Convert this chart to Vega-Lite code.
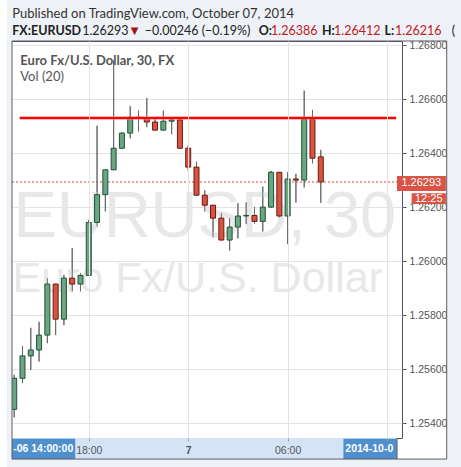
{
  "$schema": "https://vega.github.io/schema/vega-lite/v6.json",
  "autosize": "none",
  "width": 395,
  "height": 397,
  "padding": {"left": 7, "top": 41, "right": 59, "bottom": 29},
  "background": "white",
  "config": {
    "view": {"stroke": "#50535e", "strokeWidth": 1},
    "font": "Liberation Sans"
  },
  "datasets": {
    "candles": [
      {"t": "2014-10-06T13:30:00Z", "o": 1.25451, "h": 1.25579, "l": 1.25421, "c": 1.25566},
      {"t": "2014-10-06T14:00:00Z", "o": 1.25566, "h": 1.25686, "l": 1.25548, "c": 1.25649},
      {"t": "2014-10-06T14:30:00Z", "o": 1.25649, "h": 1.25753, "l": 1.25597, "c": 1.25671},
      {"t": "2014-10-06T15:00:00Z", "o": 1.25671, "h": 1.25775, "l": 1.25628, "c": 1.25726},
      {"t": "2014-10-06T15:30:00Z", "o": 1.25726, "h": 1.25937, "l": 1.25696, "c": 1.25915},
      {"t": "2014-10-06T16:00:00Z", "o": 1.25915, "h": 1.25916, "l": 1.25726, "c": 1.25785},
      {"t": "2014-10-06T16:30:00Z", "o": 1.25785, "h": 1.25949, "l": 1.25763, "c": 1.25937},
      {"t": "2014-10-06T17:00:00Z", "o": 1.25937, "h": 1.26048, "l": 1.25888, "c": 1.25915},
      {"t": "2014-10-06T17:30:00Z", "o": 1.25915, "h": 1.25955, "l": 1.25888, "c": 1.25947},
      {"t": "2014-10-06T18:00:00Z", "o": 1.25947, "h": 1.26153, "l": 1.25945, "c": 1.26143},
      {"t": "2014-10-06T18:30:00Z", "o": 1.26143, "h": 1.26501, "l": 1.26128, "c": 1.26246},
      {"t": "2014-10-06T19:00:00Z", "o": 1.26246, "h": 1.26339, "l": 1.26184, "c": 1.26338},
      {"t": "2014-10-06T19:30:00Z", "o": 1.26338, "h": 1.26743, "l": 1.26337, "c": 1.26418},
      {"t": "2014-10-06T20:00:00Z", "o": 1.26418, "h": 1.26477, "l": 1.26416, "c": 1.26474},
      {"t": "2014-10-06T20:30:00Z", "o": 1.26474, "h": 1.26573, "l": 1.26455, "c": 1.26533},
      {"t": "2014-10-06T21:00:00Z", "o": 1.26533, "h": 1.26557, "l": 1.26480, "c": 1.26529},
      {"t": "2014-10-06T21:30:00Z", "o": 1.26529, "h": 1.26604, "l": 1.26496, "c": 1.26515},
      {"t": "2014-10-06T22:00:00Z", "o": 1.26515, "h": 1.26529, "l": 1.26484, "c": 1.26485},
      {"t": "2014-10-06T22:30:00Z", "o": 1.26485, "h": 1.26557, "l": 1.26484, "c": 1.26518},
      {"t": "2014-10-06T23:00:00Z", "o": 1.26518, "h": 1.26523, "l": 1.26470, "c": 1.26523},
      {"t": "2014-10-06T23:30:00Z", "o": 1.26523, "h": 1.26524, "l": 1.26417, "c": 1.26418},
      {"t": "2014-10-07T00:00:00Z", "o": 1.26418, "h": 1.26430, "l": 1.26336, "c": 1.26348},
      {"t": "2014-10-07T00:30:00Z", "o": 1.26348, "h": 1.26368, "l": 1.26243, "c": 1.26244},
      {"t": "2014-10-07T01:00:00Z", "o": 1.26244, "h": 1.26262, "l": 1.26184, "c": 1.26207},
      {"t": "2014-10-07T01:30:00Z", "o": 1.26207, "h": 1.26208, "l": 1.26088, "c": 1.26159},
      {"t": "2014-10-07T02:00:00Z", "o": 1.26159, "h": 1.26178, "l": 1.26077, "c": 1.26078},
      {"t": "2014-10-07T02:30:00Z", "o": 1.26078, "h": 1.26159, "l": 1.26039, "c": 1.26126},
      {"t": "2014-10-07T03:00:00Z", "o": 1.26126, "h": 1.26215, "l": 1.26084, "c": 1.26167},
      {"t": "2014-10-07T03:30:00Z", "o": 1.26167, "h": 1.26218, "l": 1.26137, "c": 1.26169},
      {"t": "2014-10-07T04:00:00Z", "o": 1.26169, "h": 1.26200, "l": 1.26139, "c": 1.26147},
      {"t": "2014-10-07T04:30:00Z", "o": 1.26147, "h": 1.26276, "l": 1.26110, "c": 1.26200},
      {"t": "2014-10-07T05:00:00Z", "o": 1.26200, "h": 1.26334, "l": 1.26197, "c": 1.26329},
      {"t": "2014-10-07T05:30:00Z", "o": 1.26329, "h": 1.26330, "l": 1.26162, "c": 1.26167},
      {"t": "2014-10-07T06:00:00Z", "o": 1.26167, "h": 1.26329, "l": 1.26063, "c": 1.26304},
      {"t": "2014-10-07T06:30:00Z", "o": 1.26304, "h": 1.26323, "l": 1.26217, "c": 1.26300},
      {"t": "2014-10-07T07:00:00Z", "o": 1.26300, "h": 1.26631, "l": 1.26273, "c": 1.26526},
      {"t": "2014-10-07T07:30:00Z", "o": 1.26526, "h": 1.26560, "l": 1.26362, "c": 1.26381},
      {"t": "2014-10-07T08:00:00Z", "o": 1.26386, "h": 1.26412, "l": 1.26216, "c": 1.26293}
    ],
    "one": [{}]
  },
  "layer": [
    {
      "data": {"name": "candles"},
      "mark": {"type": "rule", "color": "#6b6b6b", "strokeWidth": 1},
      "encoding": {
        "x": {
          "field": "t", "type": "temporal",
          "scale": {"type": "utc", "nice": false,
            "domain": [{"year": 2014, "month": 10, "date": 6, "hours": 13, "minutes": 22, "utc": true},
                       {"year": 2014, "month": 10, "date": 7, "hours": 12, "minutes": 36, "utc": true}]},
          "axis": {
            "orient": "bottom", "title": null,
            "values": [{"year": 2014, "month": 10, "date": 6, "hours": 18, "utc": true},
                       {"year": 2014, "month": 10, "date": 7, "hours": 0, "utc": true},
                       {"year": 2014, "month": 10, "date": 7, "hours": 6, "utc": true},
                       {"year": 2014, "month": 10, "date": 7, "hours": 12, "utc": true}],
            "labelExpr": "utchours(datum.value) == 0 ? '7' : (utchours(datum.value) == 12 ? '' : utcFormat(datum.value, '%H:%M'))",
            "grid": true, "gridColor": "#e3e3e3",
            "domain": false,
            "ticks": true, "tickSize": 3, "tickColor": "#9aa0aa",
            "labelPadding": 9, "labelBaseline": "middle",
            "labelFont": "Liberation Sans", "labelFontSize": 10.5, "labelColor": "#555555",
            "labelFontWeight": {"condition": {"test": "utchours(datum.value) == 0", "value": "bold"}, "value": "normal"},
            "labelFlush": false, "labelOverlap": false, "labelBound": false, "zindex": 1
          }
        },
        "y": {
          "field": "l", "type": "quantitative",
          "scale": {"domain": [1.25345, 1.26815], "nice": false, "zero": false},
          "axis": {
            "orient": "right", "title": null,
            "values": [1.254, 1.256, 1.258, 1.26, 1.262, 1.264, 1.266, 1.268],
            "format": ".5f",
            "grid": true, "gridColor": "#e3e3e3",
            "domain": false,
            "ticks": true, "tickColor": "#50535e", "tickSize": 4,
            "labelPadding": 3, "labelFont": "Liberation Sans", "labelFontSize": 10.5, "labelColor": "#555555",
            "labelFlush": false, "labelOverlap": false, "labelBound": false, "zindex": 0
          }
        },
        "y2": {"field": "h"}
      }
    },
    {
      "data": {"name": "one"},
      "mark": {"type": "text", "align": "left", "baseline": "alphabetic", "font": "Liberation Sans", "fontSize": 65, "color": "#e8e8e8", "clip": false},
      "encoding": {
        "x": {"datum": {"year": 2014, "month": 10, "date": 6, "hours": 13, "minutes": 27, "utc": true}},
        "y": {"datum": 1.2609},
        "text": {"value": "EURUSD, 30"}
      }
    },
    {
      "data": {"name": "one"},
      "mark": {"type": "text", "align": "left", "baseline": "alphabetic", "font": "Liberation Sans", "fontSize": 43, "color": "#e8e8e8", "clip": false},
      "encoding": {
        "x": {"datum": {"year": 2014, "month": 10, "date": 6, "hours": 13, "minutes": 24, "utc": true}},
        "y": {"datum": 1.25886},
        "text": {"value": "Euro Fx/U.S. Dollar"}
      }
    },
    {
      "data": {"name": "one"},
      "mark": {"type": "rule", "color": "#e0483a", "strokeWidth": 1, "strokeDash": [2, 2]},
      "encoding": {"y": {"datum": 1.26293}}
    },
    {
      "data": {"name": "candles"},
      "mark": {"type": "rule", "color": "#6b6b6b", "strokeWidth": 1},
      "encoding": {
        "x": {"field": "t", "type": "temporal", "axis": {"title": null}},
        "y": {"field": "l", "type": "quantitative", "axis": {"title": null}},
        "y2": {"field": "h"}
      }
    },
    {
      "data": {"name": "candles"},
      "mark": {"type": "bar", "width": 5, "strokeWidth": 1},
      "encoding": {
        "x": {"field": "t", "type": "temporal", "axis": {"title": null}},
        "y": {"field": "o", "type": "quantitative", "axis": {"title": null}},
        "y2": {"field": "c"},
        "fill": {"condition": {"test": "datum.c >= datum.o", "value": "#6ba583"}, "value": "#d75442"},
        "stroke": {"condition": {"test": "datum.c >= datum.o", "value": "#225437"}, "value": "#6b1a12"}
      }
    },
    {
      "data": {"name": "one"},
      "mark": {"type": "rule", "color": "#ff7070", "strokeWidth": 4, "opacity": 0.5, "clip": false},
      "encoding": {
        "x": {"datum": {"year": 2014, "month": 10, "date": 6, "hours": 13, "minutes": 50, "utc": true}},
        "x2": {"datum": {"year": 2014, "month": 10, "date": 7, "hours": 12, "minutes": 33, "utc": true}},
        "y": {"datum": 1.2653}
      }
    },
    {
      "data": {"name": "one"},
      "mark": {"type": "rule", "color": "#ff0000", "strokeWidth": 2, "clip": false},
      "encoding": {
        "x": {"datum": {"year": 2014, "month": 10, "date": 6, "hours": 13, "minutes": 50, "utc": true}},
        "x2": {"datum": {"year": 2014, "month": 10, "date": 7, "hours": 12, "minutes": 33, "utc": true}},
        "y": {"datum": 1.2653}
      }
    },
    {
      "data": {"name": "one"},
      "mark": {"type": "text", "align": "left", "baseline": "middle", "font": "Lato", "fontWeight": "bold", "fontSize": 13, "color": "#555555", "clip": false},
      "encoding": {
        "x": {"datum": {"year": 2014, "month": 10, "date": 6, "hours": 13, "minutes": 52, "utc": true}},
        "y": {"datum": 1.26742},
        "text": {"value": "Euro Fx/U.S. Dollar, 30, FX"}
      }
    },
    {
      "data": {"name": "one"},
      "mark": {"type": "text", "align": "left", "baseline": "middle", "font": "Lato", "fontSize": 13, "color": "#555555", "clip": false},
      "encoding": {
        "x": {"datum": {"year": 2014, "month": 10, "date": 6, "hours": 13, "minutes": 52, "utc": true}},
        "y": {"datum": 1.26681},
        "text": {"value": "Vol (20)"}
      }
    },
    {
      "data": {"name": "one"},
      "mark": {"type": "rect", "color": "#da5344", "clip": false},
      "encoding": {
        "x": {"datum": {"year": 2014, "month": 10, "date": 7, "hours": 12, "minutes": 36, "utc": true}},
        "x2": {"datum": {"year": 2014, "month": 10, "date": 7, "hours": 15, "minutes": 33, "utc": true}},
        "y": {"datum": 1.26315},
        "y2": {"datum": 1.2626}
      }
    },
    {
      "data": {"name": "one"},
      "mark": {"type": "text", "align": "center", "baseline": "middle", "font": "Liberation Sans", "fontSize": 11, "color": "white", "clip": false},
      "encoding": {
        "x": {"datum": {"year": 2014, "month": 10, "date": 7, "hours": 14, "minutes": 4, "utc": true}},
        "y": {"datum": 1.26288},
        "text": {"value": "1.26293"}
      }
    },
    {
      "data": {"name": "one"},
      "mark": {"type": "rect", "color": "#da5344", "clip": false},
      "encoding": {
        "x": {"datum": {"year": 2014, "month": 10, "date": 7, "hours": 13, "minutes": 29, "utc": true}},
        "x2": {"datum": {"year": 2014, "month": 10, "date": 7, "hours": 15, "minutes": 33, "utc": true}},
        "y": {"datum": 1.26251},
        "y2": {"datum": 1.26211}
      }
    },
    {
      "data": {"name": "one"},
      "mark": {"type": "text", "align": "center", "baseline": "middle", "font": "Liberation Sans", "fontSize": 11, "color": "white", "clip": false},
      "encoding": {
        "x": {"datum": {"year": 2014, "month": 10, "date": 7, "hours": 14, "minutes": 31, "utc": true}},
        "y": {"datum": 1.26231},
        "text": {"value": "12:25"}
      }
    },
    {
      "data": {"name": "one"},
      "mark": {"type": "rect", "color": "#d5e3f7", "clip": false},
      "encoding": {
        "x": {"datum": {"year": 2014, "month": 10, "date": 6, "hours": 13, "minutes": 22, "utc": true}},
        "x2": {"datum": {"year": 2014, "month": 10, "date": 7, "hours": 12, "minutes": 36, "utc": true}},
        "y": {"datum": 1.25345},
        "y2": {"datum": 1.25267}
      }
    },
    {
      "data": {"name": "one"},
      "mark": {"type": "rect", "color": "#4f8fcd", "clip": false},
      "encoding": {
        "x": {"datum": {"year": 2014, "month": 10, "date": 6, "hours": 13, "minutes": 22, "utc": true}},
        "x2": {"datum": {"year": 2014, "month": 10, "date": 6, "hours": 17, "minutes": 11, "utc": true}},
        "y": {"datum": 1.25342},
        "y2": {"datum": 1.25267}
      }
    },
    {
      "data": {"name": "one"},
      "mark": {"type": "text", "align": "center", "baseline": "middle", "font": "Liberation Sans", "fontWeight": "bold", "fontSize": 10.5, "color": "white", "clip": false},
      "encoding": {
        "x": {"datum": {"year": 2014, "month": 10, "date": 6, "hours": 15, "minutes": 15, "utc": true}},
        "y": {"datum": 1.25304},
        "text": {"value": "-06 14:00:00"}
      }
    },
    {
      "data": {"name": "one"},
      "mark": {"type": "rect", "color": "#4f8fcd", "clip": false},
      "encoding": {
        "x": {"datum": {"year": 2014, "month": 10, "date": 7, "hours": 9, "minutes": 22, "utc": true}},
        "x2": {"datum": {"year": 2014, "month": 10, "date": 7, "hours": 12, "minutes": 35, "utc": true}},
        "y": {"datum": 1.25342},
        "y2": {"datum": 1.25267}
      }
    },
    {
      "data": {"name": "one"},
      "mark": {"type": "text", "align": "left", "baseline": "middle", "font": "Liberation Sans", "fontWeight": "bold", "fontSize": 10.5, "color": "white", "clip": false},
      "encoding": {
        "x": {"datum": {"year": 2014, "month": 10, "date": 7, "hours": 9, "minutes": 29, "utc": true}},
        "y": {"datum": 1.25304},
        "text": {"value": "2014-10-0"}
      }
    },
    {
      "data": {"name": "one"},
      "mark": {"type": "rect", "color": "#eef1f6", "clip": false},
      "encoding": {
        "x": {"datum": {"year": 2014, "month": 10, "date": 6, "hours": 13, "minutes": 4, "utc": true}},
        "x2": {"datum": {"year": 2014, "month": 10, "date": 6, "hours": 13, "minutes": 22, "utc": true}},
        "y": {"datum": 1.25226},
        "y2": {"datum": 1.26985}
      }
    },
    {
      "data": {"name": "one"},
      "mark": {"type": "rect", "color": "#eef1f6", "clip": false},
      "encoding": {
        "x": {"datum": {"year": 2014, "month": 10, "date": 7, "hours": 15, "minutes": 36, "utc": true}},
        "x2": {"datum": {"year": 2014, "month": 10, "date": 7, "hours": 16, "minutes": 36, "utc": true}},
        "y": {"datum": 1.25226},
        "y2": {"datum": 1.26985}
      }
    },
    {
      "data": {"name": "one"},
      "mark": {"type": "rect", "color": "#eef1f6", "clip": false},
      "encoding": {
        "x": {"datum": {"year": 2014, "month": 10, "date": 6, "hours": 13, "minutes": 4, "utc": true}},
        "x2": {"datum": {"year": 2014, "month": 10, "date": 7, "hours": 16, "minutes": 36, "utc": true}},
        "y": {"datum": 1.26815},
        "y2": {"datum": 1.26985}
      }
    },
    {
      "data": {"name": "one"},
      "mark": {"type": "rect", "color": "#eef1f6", "clip": false},
      "encoding": {
        "x": {"datum": {"year": 2014, "month": 10, "date": 6, "hours": 13, "minutes": 4, "utc": true}},
        "x2": {"datum": {"year": 2014, "month": 10, "date": 7, "hours": 16, "minutes": 36, "utc": true}},
        "y": {"datum": 1.25226},
        "y2": {"datum": 1.25267}
      }
    },
    {
      "data": {"name": "one"},
      "mark": {"type": "rule", "color": "#50535e", "strokeWidth": 1, "clip": false},
      "encoding": {
        "x": {"datum": {"year": 2014, "month": 10, "date": 7, "hours": 12, "minutes": 36, "utc": true}},
        "y": {"datum": 1.25345},
        "y2": {"datum": 1.25267}
      }
    },
    {
      "data": {"name": "one"},
      "mark": {"type": "rect", "fillOpacity": 0, "fill": "white", "stroke": "#5a5e69", "strokeWidth": 1, "clip": false},
      "encoding": {
        "x": {"datum": {"year": 2014, "month": 10, "date": 6, "hours": 13, "minutes": 22, "utc": true}},
        "x2": {"datum": {"year": 2014, "month": 10, "date": 7, "hours": 15, "minutes": 36, "utc": true}},
        "y": {"datum": 1.25267},
        "y2": {"datum": 1.26815}
      }
    },
    {
      "data": {"name": "one"},
      "mark": {"type": "text", "align": "left", "baseline": "middle", "font": "Lato", "fontSize": 13, "color": "#333333", "clip": false},
      "encoding": {
        "x": {"datum": {"year": 2014, "month": 10, "date": 6, "hours": 13, "minutes": 23, "utc": true}},
        "y": {"datum": 1.26915},
        "text": {"value": "Published on TradingView.com, October 07, 2014"}
      }
    },
    {
      "data": {"name": "one"},
      "mark": {"type": "text", "align": "left", "baseline": "middle", "font": "Lato", "fontWeight": "bold", "fontSize": 12.5, "color": "#222222", "clip": false},
      "encoding": {
        "x": {"datum": {"year": 2014, "month": 10, "date": 6, "hours": 13, "minutes": 23, "utc": true}},
        "y": {"datum": 1.26853},
        "text": {"value": "FX:EURUSD"}
      }
    },
    {
      "data": {"name": "one"},
      "mark": {"type": "text", "align": "left", "baseline": "middle", "font": "Lato", "fontSize": 12.5, "color": "#222222", "clip": false},
      "encoding": {
        "x": {"datum": {"year": 2014, "month": 10, "date": 6, "hours": 17, "minutes": 36, "utc": true}},
        "y": {"datum": 1.26853},
        "text": {"value": "1.26293"}
      }
    },
    {
      "data": {"name": "one"},
      "mark": {"type": "text", "align": "center", "baseline": "middle", "font": "DejaVu Sans", "fontSize": 10, "color": "#a31515", "clip": false},
      "encoding": {
        "x": {"datum": {"year": 2014, "month": 10, "date": 6, "hours": 20, "minutes": 46, "utc": true}},
        "y": {"datum": 1.26853},
        "text": {"value": "▼"}
      }
    },
    {
      "data": {"name": "one"},
      "mark": {"type": "text", "align": "left", "baseline": "middle", "font": "Lato", "fontSize": 12.5, "color": "#222222", "clip": false},
      "encoding": {
        "x": {"datum": {"year": 2014, "month": 10, "date": 6, "hours": 21, "minutes": 23, "utc": true}},
        "y": {"datum": 1.26853},
        "text": {"value": "−0.00246 (−0.19%)"}
      }
    },
    {
      "data": {"name": "one"},
      "mark": {"type": "text", "align": "left", "baseline": "middle", "font": "Lato", "fontWeight": "bold", "fontSize": 12.5, "color": "#222222", "clip": false},
      "encoding": {
        "x": {"datum": {"year": 2014, "month": 10, "date": 7, "hours": 4, "minutes": 15, "utc": true}},
        "y": {"datum": 1.26853},
        "text": {"value": "O:"}
      }
    },
    {
      "data": {"name": "one"},
      "mark": {"type": "text", "align": "left", "baseline": "middle", "font": "Lato", "fontSize": 12.5, "color": "#c0201e", "clip": false},
      "encoding": {
        "x": {"datum": {"year": 2014, "month": 10, "date": 7, "hours": 5, "minutes": 0, "utc": true}},
        "y": {"datum": 1.26853},
        "text": {"value": "1.26386"}
      }
    },
    {
      "data": {"name": "one"},
      "mark": {"type": "text", "align": "left", "baseline": "middle", "font": "Lato", "fontWeight": "bold", "fontSize": 12.5, "color": "#222222", "clip": false},
      "encoding": {
        "x": {"datum": {"year": 2014, "month": 10, "date": 7, "hours": 8, "minutes": 4, "utc": true}},
        "y": {"datum": 1.26853},
        "text": {"value": "H:"}
      }
    },
    {
      "data": {"name": "one"},
      "mark": {"type": "text", "align": "left", "baseline": "middle", "font": "Lato", "fontSize": 12.5, "color": "#c0201e", "clip": false},
      "encoding": {
        "x": {"datum": {"year": 2014, "month": 10, "date": 7, "hours": 8, "minutes": 48, "utc": true}},
        "y": {"datum": 1.26853},
        "text": {"value": "1.26412"}
      }
    },
    {
      "data": {"name": "one"},
      "mark": {"type": "text", "align": "left", "baseline": "middle", "font": "Lato", "fontWeight": "bold", "fontSize": 12.5, "color": "#222222", "clip": false},
      "encoding": {
        "x": {"datum": {"year": 2014, "month": 10, "date": 7, "hours": 11, "minutes": 51, "utc": true}},
        "y": {"datum": 1.26853},
        "text": {"value": "L:"}
      }
    },
    {
      "data": {"name": "one"},
      "mark": {"type": "text", "align": "left", "baseline": "middle", "font": "Lato", "fontSize": 12.5, "color": "#c0201e", "clip": false},
      "encoding": {
        "x": {"datum": {"year": 2014, "month": 10, "date": 7, "hours": 12, "minutes": 29, "utc": true}},
        "y": {"datum": 1.26853},
        "text": {"value": "1.26216"}
      }
    },
    {
      "data": {"name": "one"},
      "mark": {"type": "text", "align": "left", "baseline": "middle", "font": "Lato", "fontSize": 12.5, "color": "#222222", "clip": false},
      "encoding": {
        "x": {"datum": {"year": 2014, "month": 10, "date": 7, "hours": 15, "minutes": 54, "utc": true}},
        "y": {"datum": 1.26853},
        "text": {"value": "("}
      }
    }
  ]
}
